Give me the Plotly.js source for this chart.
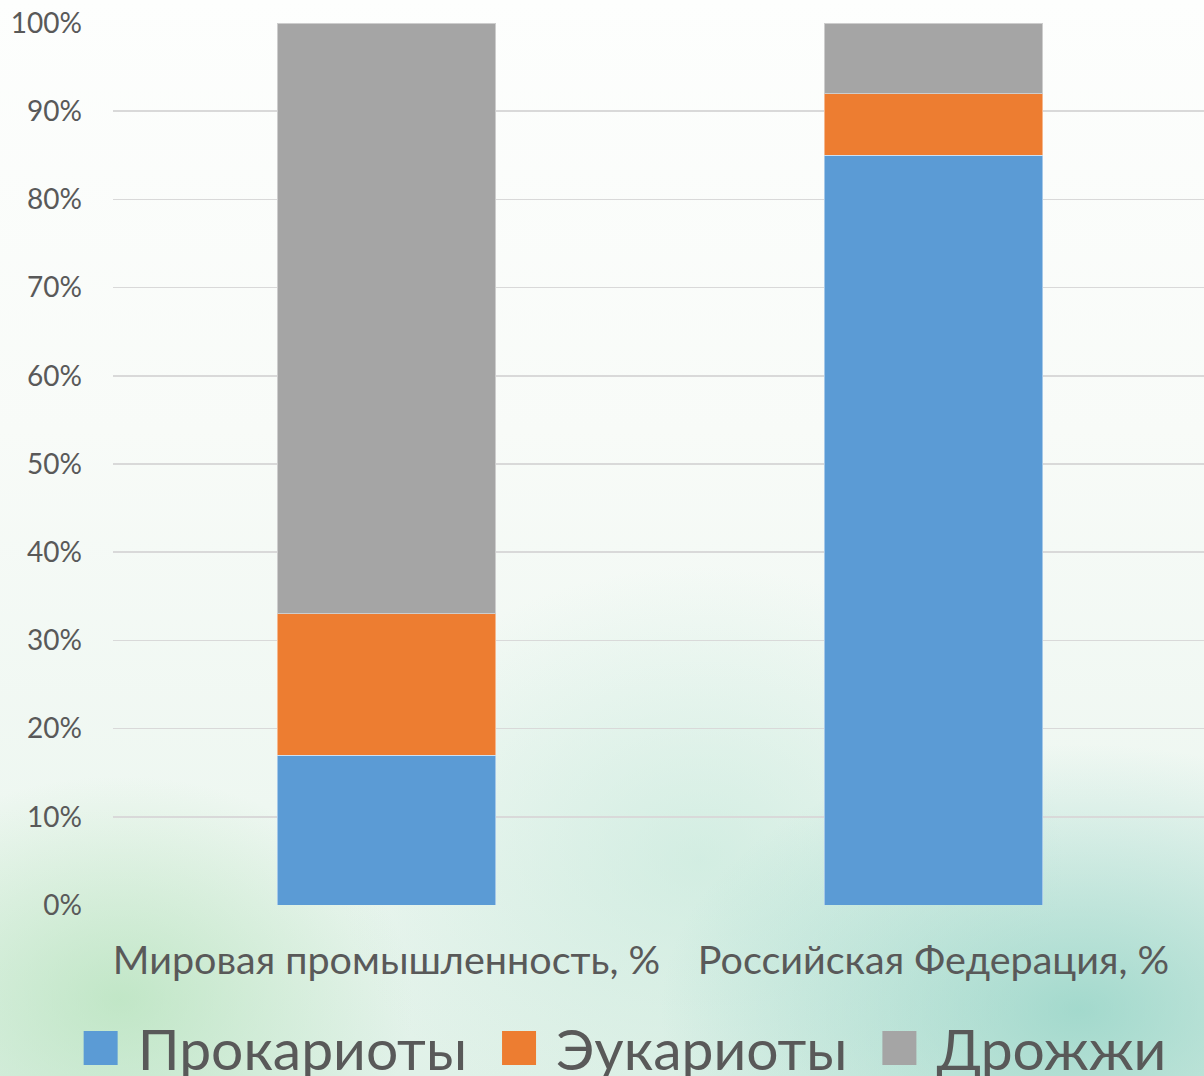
<!DOCTYPE html>
<html>
<head>
<meta charset="utf-8">
<script src="https://cdn.plot.ly/plotly-3.0.1.min.js"></script>
<style>
  html, body { margin: 0; padding: 0; }
  body {
    width: 1204px; height: 1076px; overflow: hidden;
    background:
      radial-gradient(ellipse 420px 320px at 120px 1000px, rgba(170, 222, 175, 0.6), rgba(255,255,255,0) 70%),
      radial-gradient(ellipse 600px 380px at 1080px 1010px, rgba(120, 200, 185, 0.6), rgba(255,255,255,0) 70%),
      radial-gradient(ellipse 520px 420px at 700px 860px, rgba(190, 230, 215, 0.55), rgba(255,255,255,0) 70%),
      linear-gradient(180deg, #fdfefd 0%, #f8fbf8 40%, #eef7f1 75%, #e0f1e8 100%);
  }
  #chart { width: 1207px; height: 1076px; }
</style>
</head>
<body>
<div id="chart"></div>
<script>
// категории и доли, %
const categories = ['Мировая промышленность, %', 'Российская Федерация, %'];
const prokaryotes = [17, 85];
const eukaryotes = [16, 7];
const yeasts = [67, 8];
const tickVals = [0, 10, 20, 30, 40, 50, 60, 70, 80, 90, 100];
const tickText = tickVals.map(v => v + '%');

const textColor = '#595959';
const font = 'Lato, "Open Sans", sans-serif';

function barTrace(name, values, color) {
    return {
        type: 'bar',
        name: name,
        x: categories,
        y: values,
        width: 0.4,
        marker: { color: color, line: { color: 'rgba(255,255,255,0.45)', width: 1 } },
        hoverinfo: 'name+y'
    };
}

const data = [
    barTrace('Прокариоты', prokaryotes, '#5b9bd5'),
    barTrace('Эукариоты', eukaryotes, '#ed7d31'),
    barTrace('Дрожжи', yeasts, '#a5a5a5')
];

const layout = {
    width: 1207,
    height: 1076,
    barmode: 'stack',
    paper_bgcolor: 'rgba(0,0,0,0)',
    plot_bgcolor: 'rgba(0,0,0,0)',
    margin: { l: 113, r: 0, t: 23, b: 171, autoexpand: false },
    font: { family: font, color: textColor },
    showlegend: true,
    legend: {
        orientation: 'h',
        x: 0.45, xanchor: 'center',
        y: -0.16, yanchor: 'top',
        font: { size: 57, color: textColor, family: font },
        traceorder: 'normal',
        itemclick: false
    },
    xaxis: {
        type: 'category',
        range: [-0.5, 1.5],
        tickangle: 0,
        ticks: '',
        showline: false,
        tickfont: { size: 39.5, color: textColor },
        ticklabelstandoff: 28
    },
    yaxis: {
        range: [0, 100],
        tickvals: tickVals,
        ticktext: tickText,
        tickfont: { size: 28, color: textColor },
        gridcolor: '#d9d9d9',
        gridwidth: 1.5,
        zeroline: false,
        showline: false,
        ticklabelstandoff: 30
    }
};

// легенда: крупные квадраты и расстановка элементов по центру внизу
function layoutLegend(gd) {
    const legend = gd.querySelector('.legend');
    if (!legend) return;
    legend.querySelectorAll('[clip-path]').forEach(n => n.removeAttribute('clip-path'));
    const bg = legend.querySelector('.bg');
    if (bg) bg.style.display = 'none';

    const symbol = 34, textGap = 20, itemGap = 35, centerX = 625, centerY = 1048;
    const items = Array.from(legend.querySelectorAll('.traces'));
    const widths = items.map(g => g.querySelector('text.legendtext').getComputedTextLength());
    const total = widths.reduce((s, w) => s + symbol + textGap + w, 0) + itemGap * (items.length - 1);

    let x = centerX - total / 2;
    items.forEach((g, i) => {
        const p = g.querySelector('.legendpoints path');
        p.setAttribute('transform', 'translate(' + symbol / 2 + ',0) scale(' + symbol / 12 + ')');
        p.style.strokeWidth = '0';
        const t = g.querySelector('text.legendtext');
        t.setAttribute('x', symbol + textGap);
        const ctm = g.parentNode.getCTM();
        g.setAttribute('transform', 'translate(' + (x - ctm.e) + ',' + (centerY - ctm.f) + ')');
        x += symbol + textGap + widths[i] + itemGap;
    });
}

Plotly.newPlot('chart', data, layout, { displayModeBar: false, staticPlot: true }).then(layoutLegend);
</script>
</body>
</html>
